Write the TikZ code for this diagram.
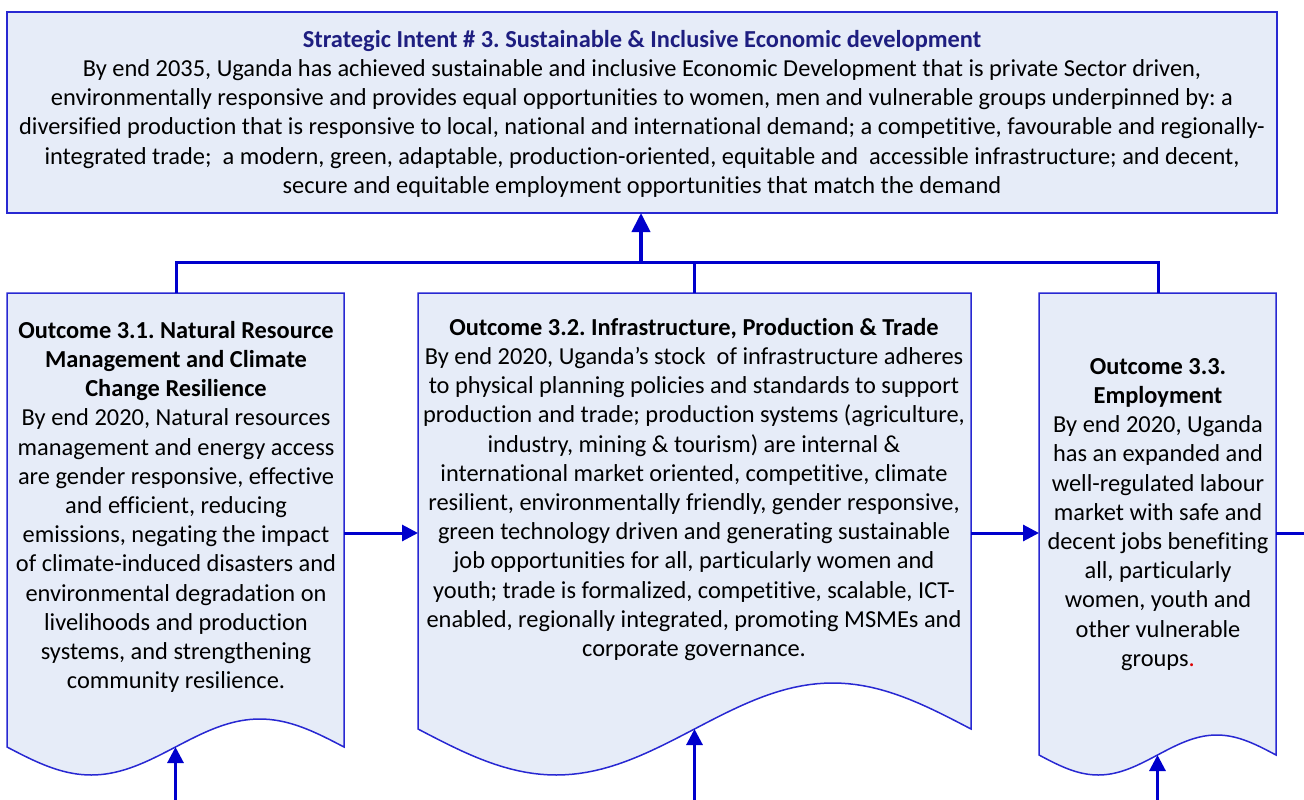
\documentclass[tikz,border=0pt]{standalone}
\usepackage{fontspec}
\setmainfont{Carlito}[Ligatures=NoCommon]
\usetikzlibrary{arrows.meta}
\definecolor{linkblue}{RGB}{0,0,204}
\definecolor{boxblue}{RGB}{40,40,210}
\definecolor{boxfill}{RGB}{230,236,248}
\definecolor{titlenavy}{RGB}{30,30,128}
\definecolor{dotred}{RGB}{220,0,0}
\frenchspacing
\begin{document}
\begin{tikzpicture}[x=1pt,y=-1pt,
  boxshape/.style={draw=boxblue, fill=boxfill, line width=1.5pt},
  txt/.style={align=center, inner sep=0pt, anchor=north, font=\fontsize{24.4}{29.2}\selectfont},
  link/.style={draw=linkblue, line width=3pt, -{Triangle[length=16pt,width=16pt]}},
  bigLink/.style={draw=linkblue, line width=4pt, -{Triangle[length=19pt,width=18pt]}},
  plainlink/.style={draw=linkblue, line width=3pt},
]
\useasboundingbox (0,0) rectangle (1304,800);

% top box
\node[boxshape, minimum width=1270pt, minimum height=201pt, inner sep=0pt] (top) at (642,112.5) {};
\node[txt] (toptxt) at (642,26.6) {\strut\textcolor{titlenavy}{\textbf{Strategic Intent \# 3. Sustainable \& Inclusive Economic development}}\\
By end 2035, Uganda has achieved sustainable and inclusive Economic Development that is private Sector driven,\\
environmentally responsive and provides equal opportunities to women, men and vulnerable groups underpinned by: a\\
diversified production that is responsive to local, national and international demand; a competitive, favourable and regionally-\\
integrated trade;\ \ a modern, green, adaptable, production-oriented, equitable and\ \ accessible infrastructure; and decent,\\
secure and equitable employment opportunities that match the demand};

% outcome boxes (document shapes)
\path[boxshape] (7,293) -- (344,293) -- (344,747) -- plot[domain=360:0, samples=73] ({7+\x/360*337},{747+28*sin(\x)}) -- cycle;
\path[boxshape] (418,293) -- (971,293) -- (971,729) -- plot[domain=360:0, samples=73] ({418+\x/360*553},{729+46*sin(\x)}) -- cycle;
\path[boxshape] (1039,293) -- (1276,293) -- (1276,755) -- plot[domain=360:0, samples=73] ({1039+\x/360*237},{755+20*sin(\x)}) -- cycle;

\node[txt] (t1) at (176,317.6) {\strut\textbf{Outcome 3.1. Natural Resource}\\
\textbf{Management and Climate}\\
\textbf{Change Resilience}\\
By end 2020, Natural resources\\
management and energy access\\
are gender responsive, effective\\
and efficient, reducing\\
emissions, negating the impact\\
of climate-induced disasters and\\
environmental degradation on\\
livelihoods and production\\
systems, and strengthening\\
community resilience.};

\node[txt] (t2) at (694,314.6) {\strut\textbf{Outcome 3.2. Infrastructure, Production \& Trade}\\
By end 2020, Uganda’s stock\ \ of infrastructure adheres\\
to physical planning policies and standards to support\\
production and trade; production systems (agriculture,\\
industry, mining \& tourism) are internal \&\\
international market oriented, competitive, climate\\
resilient, environmentally friendly, gender responsive,\\
green technology driven and generating sustainable\\
job opportunities for all, particularly women and\\
youth; trade is formalized, competitive, scalable, ICT-\\
enabled, regionally integrated, promoting MSMEs and\\
corporate governance.};

\node[txt] (t3) at (1158,353.6) {\strut\textbf{Outcome 3.3.}\\
\textbf{Employment}\\
By end 2020, Uganda\\
has an expanded and\\
well-regulated labour\\
market with safe and\\
decent jobs benefiting\\
all, particularly\\
women, youth and\\
other vulnerable\\
groups\textcolor{dotred}{.}};

% named points
\coordinate (b1top) at (176,293);
\coordinate (b2top) at (694,293);
\coordinate (b3top) at (1158,293);
\coordinate (busL) at (176,262);
\coordinate (busR) at (1158,262);
\coordinate (busM) at (694,262);
\coordinate (busA) at (641,262);
\coordinate (topin) at (641,213);
\coordinate (b1r) at (344,533);
\coordinate (b2l) at (418,533);
\coordinate (b2r) at (971,533);
\coordinate (b3l) at (1039,533);
\coordinate (b3r) at (1276,533);
\coordinate (outR) at (1304,533);
\coordinate (w1) at (175.5,747);
\coordinate (w2) at (694.5,729);
\coordinate (w3) at (1157.5,755);
\coordinate (in1) at (175.5,802);
\coordinate (in2) at (694.5,802);
\coordinate (in3) at (1157.5,802);

% connectors
\draw[plainlink] (b1top) -- (busL) -- (busR) -- (b3top);
\draw[plainlink] (b2top) -- (busM);
\draw[bigLink] (busA) -- (topin);
\draw[link] (b1r) -- (b2l);
\draw[link] (b2r) -- (b3l);
\draw[plainlink] (b3r) -- (outR);
\draw[link] (in1) -- (w1);
\draw[link] (in2) -- (w2);
\draw[link] (in3) -- (w3);
\end{tikzpicture}
\end{document}
